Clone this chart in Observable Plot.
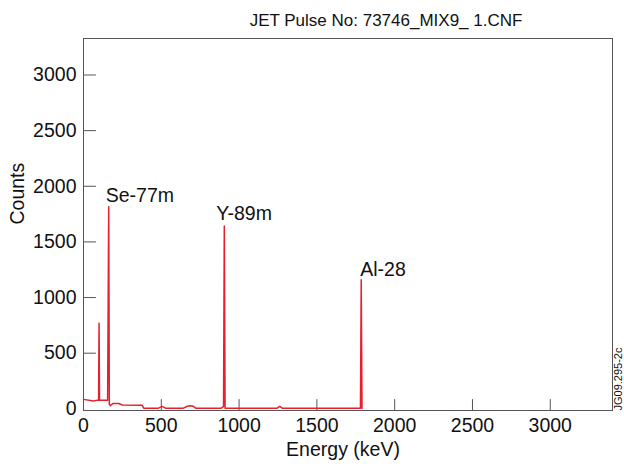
<!DOCTYPE html>
<html>
<head>
<meta charset="utf-8">
<script src="https://cdn.jsdelivr.net/npm/d3@7"></script>
<script src="https://cdn.jsdelivr.net/npm/@observablehq/plot@0.6"></script>
<style>
  html, body { margin: 0; padding: 0; background: #fff; }
</style>
</head>
<body>
<div id="chart"></div>
<script>
// Spectrum: energy (keV) and counts
const energy = [0, 64, 85, 97, 100, 103, 155, 162, 166, 173, 188, 227, 249, 377, 387, 482, 505, 527, 642, 655, 668, 687, 705, 715, 722, 886, 900, 905, 910, 1245, 1261, 1277, 1780, 1785, 1790];
const counts = [85, 70, 76, 76, 768, 76, 76, 1815, 40, 27, 48, 48, 35, 33, 6, 6, 22, 6, 6, 14, 24, 28, 24, 12, 6, 6, 20, 1644, 6, 6, 22, 6, 6, 1159, 4];

const peakLabels = ["Se-77m", "Y-89m", "Al-28"];
const peakEnergy = [162, 905, 1785];
const peakCounts = [1815, 1644, 1159];

const xTicks = [0, 500, 1000, 1500, 2000, 2500, 3000];
const yTicks = [0, 500, 1000, 1500, 2000, 2500, 3000];

const titleText = "JET Pulse No: 73746_MIX9_ 1.CNF";
const xLabel = "Energy (keV)";
const yLabel = "Counts";
const refText = "JG09.295-2c";

const spectrum = energy.map((e, i) => ({energy: e, counts: counts[i]}));
const peaks = peakLabels.map((l, i) => ({label: l, energy: peakEnergy[i], counts: peakCounts[i]}));

const font = "Liberation Sans, Arial, Helvetica, sans-serif";
const red = "#e6202c";
const labelDx = [-3, -8, -1];
const labelDy = [-11.5, -12, -10.5];
const fmt = d => String(d);

// plain straight tick shape for vector marks
const tickShape = {draw(context, l) { context.moveTo(0, 0); context.lineTo(0, -l); }};

const chart = Plot.plot({
  width: 624,
  height: 464,
  marginLeft: 83,
  marginRight: 12,
  marginTop: 38,
  marginBottom: 54,
  style: {fontFamily: font, background: "#fff", color: "#111"},
  x: {domain: [0, 3400]},
  y: {domain: [-15, 3328]},
  marks: [
    Plot.frame({stroke: "#555", strokeWidth: 1}),
    Plot.vector(xTicks, {x: d => d, frameAnchor: "bottom", length: 11, rotate: 0, anchor: "start", shape: tickShape, stroke: "#555", strokeWidth: 1}),
    Plot.vector(yTicks.filter(d => d > 0), {y: d => d, frameAnchor: "left", length: 12, rotate: 90, anchor: "start", shape: tickShape, stroke: "#555", strokeWidth: 1}),
    Plot.axisX({ticks: xTicks, tickFormat: fmt, tickSize: 0, tickPadding: 8, fontSize: 19.5, fill: "#111", label: null}),
    Plot.axisY({ticks: yTicks, tickFormat: fmt, tickSize: 0, tickPadding: 7, fontSize: 19.5, fill: "#111", label: null}),
    Plot.line(spectrum, {x: "energy", y: "counts", stroke: red, strokeWidth: 1.5}),
    ...peaks.map((p, i) => Plot.text([p], {
      x: "energy", y: "counts", text: "label",
      textAnchor: "start", lineAnchor: "middle",
      dx: labelDx[i], dy: labelDy[i],
      fontSize: 19.5, fill: "#111"
    })),
    Plot.text([titleText], {frameAnchor: "top", dx: 38, dy: -18, lineAnchor: "middle", fontSize: 17, fill: "#111"}),
    Plot.text([xLabel], {frameAnchor: "bottom", dx: -5, dy: 39, lineAnchor: "middle", fontSize: 19.5, fill: "#111"}),
    Plot.text([yLabel], {frameAnchor: "left", dx: -66, rotate: -90, lineAnchor: "middle", fontSize: 19.5, fill: "#111"}),
    Plot.text([refText], {frameAnchor: "bottom-right", dx: 6, dy: 0, rotate: -90, textAnchor: "start", lineAnchor: "middle", fontSize: 11, fill: "#111"})
  ]
});
document.getElementById("chart").appendChild(chart);
</script>
</body>
</html>
